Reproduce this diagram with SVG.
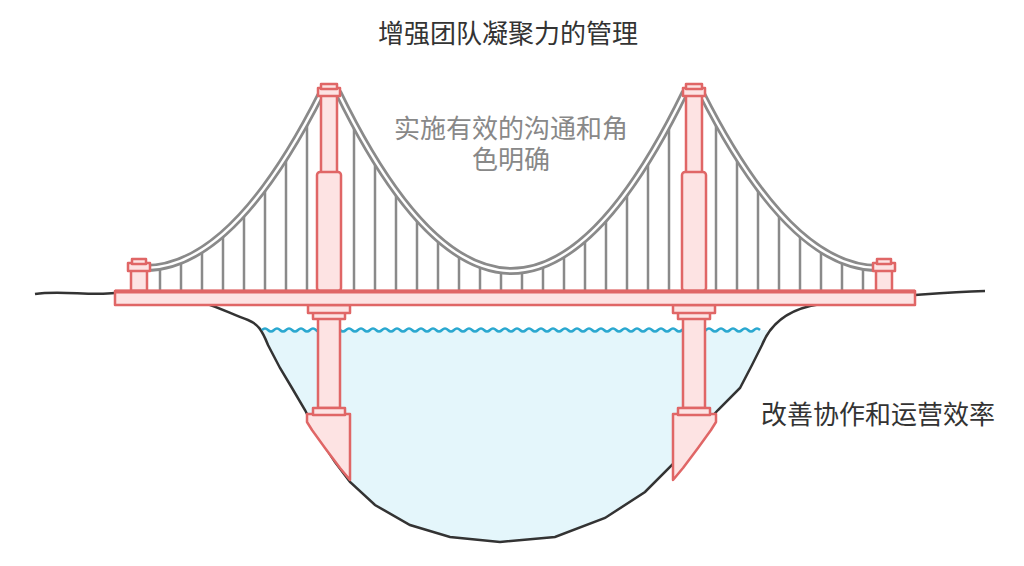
<svg xmlns="http://www.w3.org/2000/svg" width="1024" height="566" viewBox="0 0 1024 566">
<style>
.t{stroke:#e06666;stroke-width:2.5;fill:#fde3e3;stroke-linejoin:round}
.h{stroke:#8a8a8a;stroke-width:2.5}
.cab{fill:none;stroke:#8a8a8a;stroke-width:8}
.cabi{fill:none;stroke:#fff;stroke-width:2.5}
text{font-family:"Noto Sans CJK SC",sans-serif;font-size:26px;text-anchor:middle}
</style>
<rect width="1024" height="566" fill="#fff"/>
<g id="ground">
<path d="M262,330 L268,345 L280,368 L292,388 L305,410 L318,436 L335,462 L350,482 L375,505 L410,525 L450,537 L500,542 L555,537 L605,518 L645,492 L675,462 L698,432 L718,410 L740,388 L752,365 L762,345 L768,330 Z" fill="#e4f6fb"/>
<path d="M35,294 C60,290 90,296 115,293 C140,291 160,300 185,298 C210,302 230,314 248,320 C258,324 262,330 268,345 L280,368 L292,388 L305,410 L318,436 L335,462 L350,482 L375,505 L410,525 L450,537 L500,542 L555,537 L605,518 L645,492 L675,462 L698,432 L718,410 L740,388 L752,365 L762,345 C770,325 785,312 810,306 C840,300 870,298 900,296 C930,294 950,292 985,291" fill="none" stroke="#333" stroke-width="2.5"/>
<path d="M262,330 q3,-3 6,0 t6,0 t6,0 t6,0 t6,0 t6,0 t6,0 t6,0 t6,0 t6,0 t6,0 t6,0 t6,0 t6,0 t6,0 t6,0 t6,0 t6,0 t6,0 t6,0 t6,0 t6,0 t6,0 t6,0 t6,0 t6,0 t6,0 t6,0 t6,0 t6,0 t6,0 t6,0 t6,0 t6,0 t6,0 t6,0 t6,0 t6,0 t6,0 t6,0 t6,0 t6,0 t6,0 t6,0 t6,0 t6,0 t6,0 t6,0 t6,0 t6,0 t6,0 t6,0 t6,0 t6,0 t6,0 t6,0 t6,0 t6,0 t6,0 t6,0 t6,0 t6,0 t6,0 t6,0 t6,0 t6,0 t6,0 t6,0 t6,0 t6,0 t6,0 t6,0 t6,0 t6,0 t6,0 t6,0 t6,0 t6,0 t6,0 t6,0 t6,0 t6,0 t6,0" fill="none" stroke="#2aa8d0" stroke-width="2.5"/>
</g>
<defs>
<g id="half">
<g class="h">
<line x1="160" y1="267" x2="160" y2="291"/><line x1="181" y1="261" x2="181" y2="291"/><line x1="202" y1="250" x2="202" y2="291"/><line x1="223" y1="234" x2="223" y2="291"/><line x1="244" y1="213" x2="244" y2="291"/><line x1="265" y1="187" x2="265" y2="291"/><line x1="286" y1="156" x2="286" y2="291"/><line x1="307" y1="121" x2="307" y2="291"/>
<line x1="354" y1="123" x2="354" y2="291"/><line x1="375" y1="160" x2="375" y2="291"/><line x1="396" y1="191" x2="396" y2="291"/><line x1="417" y1="218" x2="417" y2="291"/><line x1="438" y1="239" x2="438" y2="291"/><line x1="459" y1="254" x2="459" y2="291"/><line x1="480" y1="265" x2="480" y2="291"/><line x1="501" y1="270" x2="501" y2="291"/>
</g>
<path class="cab" d="M145,268 Q233.5,268 322,92"/><path class="cabi" d="M145,268 Q233.5,268 322,92"/>
<path class="cab" d="M338,92 Q425,271 512,271"/><path class="cabi" d="M338,92 Q425,271 512,271"/>
<g class="t">
<rect x="131" y="270" width="16" height="21"/><rect x="128" y="263" width="22" height="8"/><rect x="132" y="259" width="14" height="5"/>
<rect x="321" y="95" width="16" height="78"/><rect x="317" y="172" width="24" height="119" rx="3"/>
<rect x="318" y="88" width="22" height="8"/><rect x="321" y="84" width="16" height="5"/>
<path d="M307,414 L350,414 L350,480 L340,468 L325,448 L312,430 L307,422 Z"/>
<rect x="318" y="318" width="22" height="90"/><rect x="313" y="408" width="32" height="7"/>
<rect x="313" y="312" width="32" height="7"/><rect x="308" y="305" width="42" height="8"/>
</g>
</g>
</defs>
<g id="bridge">
<use href="#half"/>
<use href="#half" transform="matrix(-1,0,0,1,1023,0)"/>
<rect id="deck" class="t" x="115" y="291" width="800" height="14"/>
<line x1="115" y1="291.5" x2="915" y2="291.5" stroke="#e06666" stroke-width="4"/>
</g>
<text x="508" y="43" fill="#333">增强团队凝聚力的管理</text>
<text x="511" y="138" fill="#888">实施有效的沟通和角</text>
<text x="511" y="169" fill="#888">色明确</text>
<text x="878" y="424" fill="#333">改善协作和运营效率</text>
</svg>
